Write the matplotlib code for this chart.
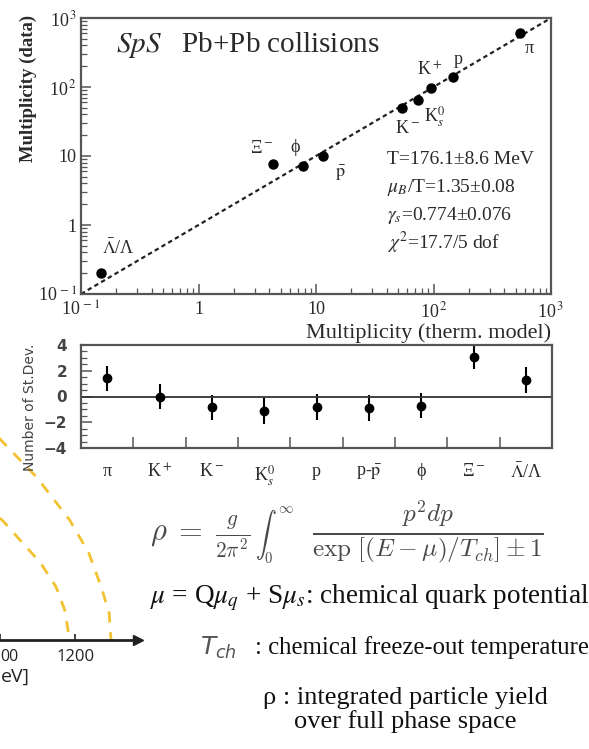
import matplotlib
matplotlib.use("Agg")
import matplotlib.pyplot as plt
from matplotlib.ticker import MultipleLocator, LogLocator, NullFormatter

plt.rcParams["font.family"] = ["Liberation Serif", "DejaVu Serif"]
plt.rcParams["mathtext.fontset"] = "stix"

W, H = 589, 749

# multiplicities: thermal model (x) vs measured (y)
species = ["π", "p", "K+", "K0s", "K-", "pbar", "phi", "Xi-", "Lbar/L"]
mult_model = [545, 147, 95, 74, 54, 11.5, 7.7, 4.3, 0.148]
mult_data = [600, 140, 97, 65, 50, 10.0, 7.2, 7.65, 0.20]
point_labels = ["π", "p", "K$^+$", "K$^0_s$", "K$^-$", r"$\bar{\mathrm{p}}$",
                "ϕ", "Ξ$^-$", r"$\bar{\Lambda}$/Λ"]
label_offsets = [(9, -15), (5, 17), (-1, 18), (16, -17), (5, -21),
                 (17, -17), (-8, 18), (-11, 16), (17, 25)]
diag = [0.1, 1000]
decades = [0.1, 1, 10, 100, 1000]
decade_labels = ["10$^{\\,-1}$", "1", "10", "10$^{\\,2}$", "10$^{\\,3}$"]

# deviations in units of sigma
dev_names = ["π", "K$^+$", "K$^-$", "K$^0_s$", "p", r"p-$\bar{\mathrm{p}}$",
             "ϕ", "Ξ$^-$", r"$\bar{\Lambda}$/Λ"]
n_sigma = [1.4, 0.0, -0.85, -1.15, -0.8, -0.9, -0.7, 3.1, 1.3]
n_sigma_err = [1.0, 1.0, 1.0, 1.0, 1.0, 1.0, 1.0, 1.0, 1.0]

fit_lines = ["T=176.1±8.6 MeV", "$\\mu_B$/T=1.35±0.08",
             "$\\gamma_s$=0.774±0.076", "$\\chi^2$=17.7/5 dof"]

# freeze-out curves of the neighbouring phase diagram (mu_B, T in MeV)
outer_mu = [990, 1020, 1097, 1185, 1236, 1269, 1290, 1295]
outer_T = [205, 193, 163, 120, 87, 53, 27, 0]
inner_mu = [1000, 1013, 1046, 1108, 1149, 1172, 1185]
inner_T = [122, 117, 103, 77, 53, 30, 0]
mu_ticks = [1000, 1200]

ink = "#2a2a2a"
frame = "#555555"
eq_gray = "#4a4a4a"

fig = plt.figure(figsize=(W / 100, H / 100), dpi=100)


def px_axes(x0, y0, x1, y1):
    return fig.add_axes([x0 / W, 1 - y1 / H, (x1 - x0) / W, (y1 - y0) / H])


def ftext(x, y, s, **kw):
    return fig.text(x / W, 1 - y / H, s, **kw)


# ---- left: edge of the phase diagram ----
ax3 = px_axes(0, 430, 138, 640)
ax3.set_xlim(1200 - 73 * 2.564, 1200 + 65 * 2.564)
ax3.set_ylim(0, 210)
ax3.plot(outer_mu, outer_T, color="#f2c232", lw=2, dashes=(4, 3.5))
ax3.plot(inner_mu, inner_T, color="#f2c232", lw=2, dashes=(4, 3.5))
for s in ["left", "top", "right"]:
    ax3.spines[s].set_visible(False)
ax3.spines["bottom"].set_linewidth(2)
ax3.spines["bottom"].set_color("#222")
ax3.set_yticks([])
ax3.set_xticks(mu_ticks)
ax3.set_xticklabels([])
ax3.tick_params(axis="x", direction="in", length=4, width=1.2, color="#222")
ax3.plot(1, 0, marker=">", ms=7, color="#222",
         transform=ax3.get_yaxis_transform(), clip_on=False)
ax3.text(mu_ticks[1], -0.08, str(mu_ticks[1]),
         transform=ax3.get_xaxis_transform(), ha="center", va="center",
         fontsize=12, family="Open Sans", color="#222")
# only the tail of the neighbouring labels stays in view
ftext(0, 657, "00", ha="left", va="center", fontsize=11.5,
      family="Open Sans", color="#222")
ftext(1, 677, "eV]", ha="left", va="center", fontsize=14,
      family="Open Sans", color="#222")

# ---- main multiplicity plot ----
ax = px_axes(81, 18, 551, 294)
ax.set_xscale("log")
ax.set_yscale("log")
ax.set_xlim(diag)
ax.set_ylim(diag)
ax.plot(diag, diag, color="#222", lw=1.6, dashes=(2, 1.5))
ax.plot(mult_model, mult_data, "o", color="black", ms=6.5)
for xm, yd, lab, off in zip(mult_model, mult_data, point_labels, label_offsets):
    ax.annotate(lab, (xm, yd), xytext=off, textcoords="offset pixels",
                ha="center", va="center", fontsize=13, color=ink)

ax.set_xticks(decades)
ax.set_xticklabels(decade_labels)
ax.set_yticks(decades)
ax.set_yticklabels(decade_labels)
ax.xaxis.set_minor_locator(LogLocator(base=10, subs=range(2, 10)))
ax.yaxis.set_minor_locator(LogLocator(base=10, subs=range(2, 10)))
ax.xaxis.set_minor_formatter(NullFormatter())
ax.yaxis.set_minor_formatter(NullFormatter())
ax.tick_params(which="both", direction="in", top=False, right=False,
               color=frame, labelcolor=ink, labelsize=13)
ax.tick_params(which="major", length=7, width=1.1)
ax.tick_params(which="minor", length=4, width=0.9)
ax.tick_params(axis="x", pad=5)
ax.tick_params(axis="y", pad=3)
for sp in ax.spines.values():
    sp.set_color(frame)
    sp.set_linewidth(1.6)

ftext(116, 45, "$\\mathit{SpS}$   Pb+Pb collisions", ha="left", va="center",
      fontsize=21, color=ink)
for i, line in enumerate(fit_lines):
    ftext(387, 160 + i * 27.5, line, ha="left", va="center", fontsize=14,
          color=ink)
ftext(28, 88, "Multiplicity (data)", rotation=90, ha="center", va="center",
      fontsize=13.5, fontweight="bold", color=ink)
ftext(551, 333, "Multiplicity (therm. model)", ha="right", va="center",
      fontsize=16, color=ink)

# ---- residuals ----
ax2 = px_axes(81, 345, 552, 448)
pos = list(range(len(n_sigma)))
ax2.errorbar(pos, n_sigma, yerr=n_sigma_err, fmt="o", color="black", ms=6,
             elinewidth=1.5, capsize=0)
ax2.axhline(0, color="#333", lw=1.3)
ax2.set_xlim(-0.5, len(n_sigma) - 0.5)
ax2.set_ylim(-4, 4)
ax2.set_yticks([-4, -2, 0, 2, 4])
ax2.yaxis.set_minor_locator(MultipleLocator(0.5))
ax2.set_xticks([p + 0.5 for p in pos[:-1]])
ax2.set_xticklabels([])
ax2.set_xticks(pos, minor=True)
ax2.set_xticklabels(dev_names, minor=True)
ax2.tick_params(which="both", direction="in", top=False, right=False,
                color=frame, labelcolor=ink)
ax2.tick_params(axis="x", which="major", length=8, width=1.1)
ax2.tick_params(axis="x", which="minor", length=0, pad=11, labelsize=13)
ax2.tick_params(axis="y", which="major", length=8, width=1.1, pad=10)
ax2.tick_params(axis="y", which="minor", length=4, width=0.9)
for t in ax2.get_yticklabels():
    t.set_family("DejaVu Sans")
    t.set_fontweight("bold")
    t.set_fontsize(11)
    t.set_color("#444")
for sp in ax2.spines.values():
    sp.set_color(frame)
    sp.set_linewidth(1.6)
ftext(30, 407, "Number of St.Dev.", rotation=90, ha="center", va="center",
      fontsize=10, family="DejaVu Sans", color="#444")

# ---- statistical model formulas ----
eq_base = 541
ftext(150, eq_base, r"$\rho\;=\;\frac{g}{2\pi^2}$", ha="left", va="baseline",
      fontsize=22, color=eq_gray, math_fontfamily="cm")
ftext(255, eq_base + 2, r"$\int_0^\infty$", ha="left", va="baseline",
      fontsize=15, color=eq_gray, math_fontfamily="cm")
ftext(312, eq_base, r"$\frac{p^2dp}{\exp\,[(E-\mu)/T_{ch}]\pm1}$", ha="left",
      va="baseline", fontsize=26, color=eq_gray, math_fontfamily="cm")
ftext(150, 598, "$\\mu$ = Q$\\mu_q$ + S$\\mu_s$: chemical quark potential",
      ha="left", va="center", fontsize=19.5, color="#111")
ftext(200, 648, "$T_{ch}$", ha="left", va="center", fontsize=18, color="#555",
      math_fontfamily="dejavusans")
ftext(255, 648, ": chemical freeze-out temperature", ha="left", va="center",
      fontsize=17.8, color="#111")
ftext(405, 698, "ρ : integrated particle yield", ha="center", va="center",
      fontsize=19, color="#111")
ftext(405, 722, "over full phase space", ha="center", va="center",
      fontsize=19, color="#111")

fig.savefig("out.png", dpi=100)
